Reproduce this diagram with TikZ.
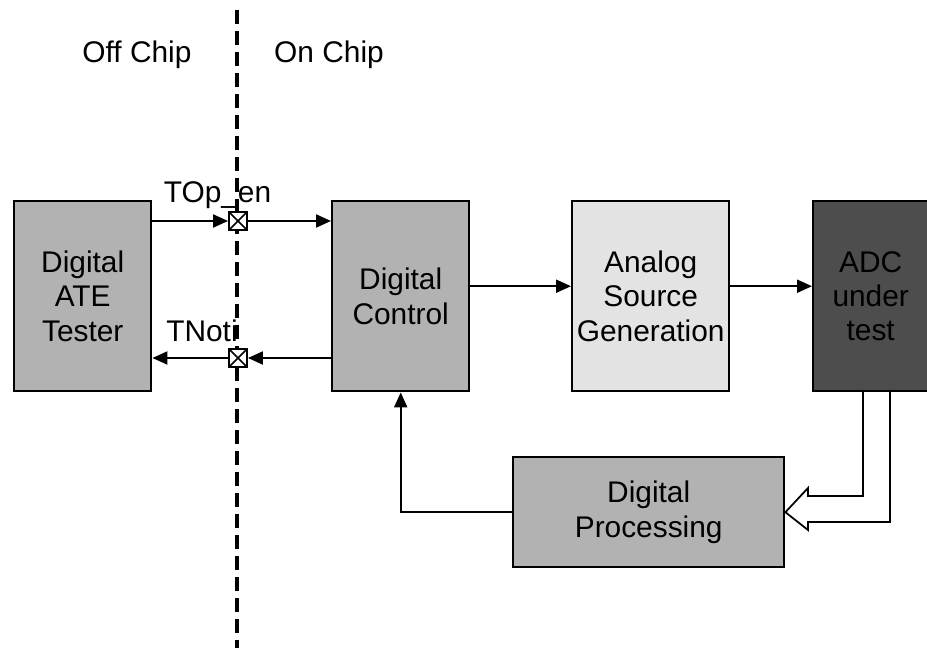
\documentclass[tikz,border=0pt]{standalone}
\usepackage{fontspec}
\setmainfont{Liberation Sans}
\usetikzlibrary{arrows.meta,calc}
\definecolor{boxgray}{RGB}{178,178,178}
\definecolor{lightgray}{RGB}{227,227,227}
\definecolor{darkgray}{RGB}{77,77,77}
\begin{document}
\begin{tikzpicture}[x=0.02cm,y=-0.02cm,
  block/.style={draw, line width=1.4pt, align=center, inner sep=0pt,
    font=\fontsize{17}{19.5}\selectfont, anchor=north west},
  pin/.style={draw, fill=white, line width=1.1pt, minimum size=0.36cm, inner sep=0pt,
    path picture={\draw[line width=0.9pt] (path picture bounding box.north west) -- (path picture bounding box.south east)
      (path picture bounding box.south west) -- (path picture bounding box.north east);}},
  sig/.style={-{Triangle[length=3mm,width=2.6mm]}, line width=1.2pt},
  lbl/.style={font=\fontsize{17}{19}\selectfont, inner sep=0pt, anchor=base}]
\useasboundingbox (0,0) rectangle (927,648);

% chip boundary
\draw[line width=2pt, dash pattern=on 0.28cm off 0.14cm] (237,10) -- (237,648);
\node[lbl] (off) at (137,63) {Off Chip};
\node[lbl] (on) at (329,63) {On Chip};

% blocks
\node[block, fill=boxgray, minimum width=2.74cm, minimum height=3.8cm] (ate) at (13,200) {Digital\\ATE\\Tester};
\node[block, fill=boxgray, minimum width=2.74cm, minimum height=3.8cm] (ctrl) at (331,200) {Digital\\Control};
\node[block, fill=lightgray, minimum width=3.14cm, minimum height=3.8cm] (asg) at (571,200) {Analog\\Source\\Generation};
\node[block, fill=darkgray, minimum width=2.3cm, minimum height=3.8cm] (adc) at (812,200) {ADC\\under\\test};
\node[block, fill=boxgray, minimum width=5.42cm, minimum height=2.2cm] (proc) at (512,456) {Digital\\Processing};

% pads
\node[pin] (pinA) at (238,221) {};
\node[pin] (pinB) at (238,358) {};
\node[lbl] (topen) at ([xshift=-0.41cm,yshift=0.18cm]pinA.north) {TOp\_en};
\node[lbl] (tnoti) at ([xshift=-0.72cm,yshift=0.14cm]pinB.north) {TNoti};

% connections
\draw[sig] (ate.east |- pinA) -- (pinA);
\draw[sig] (pinA) -- (ctrl.west |- pinA);
\draw[sig] (ctrl.west |- pinB) -- (pinB);
\draw[sig] (pinB) -- (ate.east |- pinB);
\draw[sig] ([yshift=0.2cm]ctrl.east) -- ([yshift=0.2cm]asg.west);
\draw[sig] ([yshift=0.2cm]asg.east) -- ([yshift=0.2cm]adc.west);
\draw[sig] (proc.west) -| (ctrl.south);

% bus back to processing
\draw[line width=1pt] (863,390) -- (863,496) -- (808,496) -- (808,488) -- (proc.east)
  -- (808,530) -- (808,522) -- (890,522) -- (890,390);
\end{tikzpicture}
\end{document}
